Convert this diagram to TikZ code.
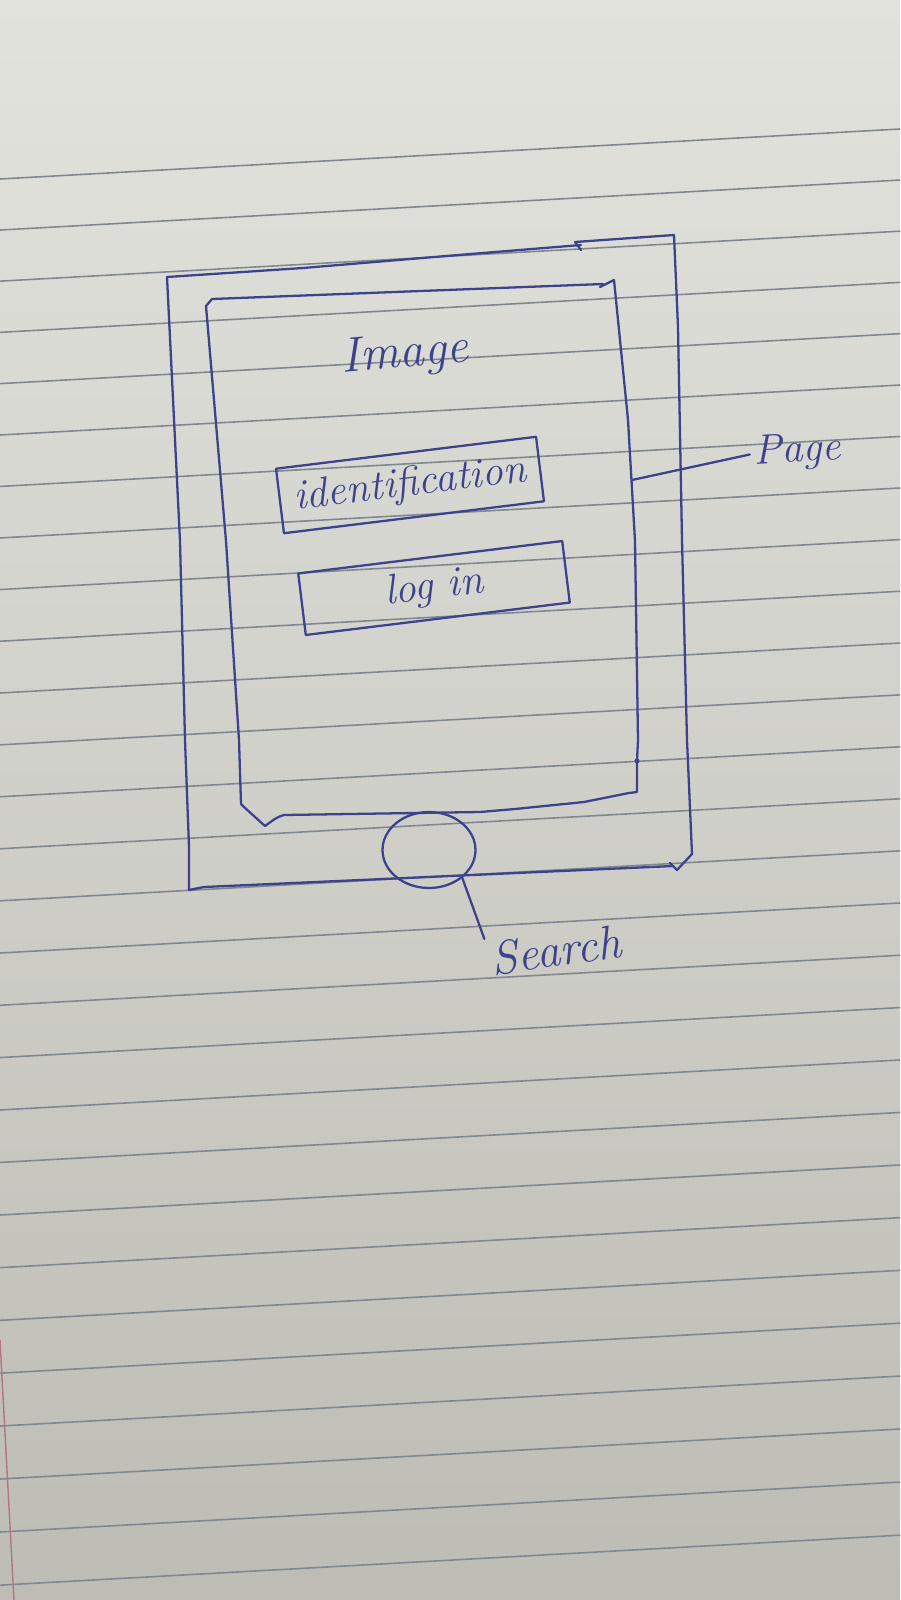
\documentclass[tikz,border=0pt]{standalone}
\usepackage{tikz}
\usetikzlibrary{shapes.geometric}

\begin{document}
\begin{tikzpicture}[x=0.02cm, y=-0.02cm,
    ink/.style={draw=inkblue, line width=1.3pt, line join=round, line cap=round},
    ruled/.style={draw=ruledgray, line width=0.9pt},
    handtext/.style={text=inkblue, font=\itshape\fontsize{24}{28}\selectfont, inner sep=2pt},
    fieldbox/.style={ink, rotate=7}]

    % Farben
    \definecolor{inkblue}{rgb}{0.24, 0.26, 0.55}
    \definecolor{ruledgray}{rgb}{0.50, 0.53, 0.56}
    \definecolor{papertop}{rgb}{0.89, 0.89, 0.87}
    \definecolor{papermid}{rgb}{0.83, 0.83, 0.81}
    \definecolor{paperbottom}{rgb}{0.74, 0.74, 0.71}
    \definecolor{marginred}{rgb}{0.72, 0.45, 0.50}

    % Papier mit Linien
    \useasboundingbox (0,0) rectangle (900,1600);
    \shade[top color=papertop, middle color=papermid, bottom color=paperbottom] (0,0) rectangle (900,1600);
    \foreach \k in {0,...,27} {
        \pgfmathsetmacro{\yl}{179+51*\k+0.04*\k*\k}
        \draw[ruled] (0,\yl) -- (900,\yl-50);
    }
    \draw[marginred, line width=0.8pt] (0,1340) -- (14,1600);

    % Gehaeuse (aussen)
    \draw[ink] (167,277) -- (303,268) -- (446,256) -- (581,245);
    \draw[ink] (581,250) -- (575,242) -- (674,235);
    \draw[ink] (674,235) -- (678,327) -- (682,540) -- (687,740) -- (692,854) -- (677,870) -- (670,863);
    \draw[ink] (673,866) -- (204,887) -- (189,890) -- (189,847) -- (185,740) -- (180,541) -- (167,277);

    % Bildschirm (innen)
    \draw[ink] (206,306) -- (212,299) -- (603,284);
    \draw[ink] (600,287) -- (614,280) -- (628,420) -- (635,541) -- (638,740) -- (637,761) -- (637,792)
        -- (629,793) -- (584,802) -- (515,809) -- (480,812) -- (284,815)
        to[out=195, in=35] (265,826) -- (244,807) -- (241,804) -- (239,740) -- (226,541) -- (206,306);
    \fill[inkblue] (637,761) circle (2.5);

    % Inhalt
    \node[handtext, rotate=5, font=\itshape\fontsize{28}{32}\selectfont] (image) at (405,355) {Image};
    \node[fieldbox, handtext, minimum width=5.24cm, minimum height=1.3cm] (ident) at (410,485) {identification};
    \node[fieldbox, handtext, minimum width=5.32cm, minimum height=1.24cm] (login) at (434,588) {log in};

    % Home-Taste
    \node[ink, ellipse, minimum width=1.86cm, minimum height=1.52cm, inner sep=0pt] (home) at (429,850) {};

    % Beschriftungen
    \node[handtext, rotate=3] (page) at (797,452) {Page};
    \node[handtext, rotate=8, font=\itshape\fontsize{27}{30}\selectfont] (search) at (556,950) {Search};

    \coordinate (pageroot) at (632,480);
    \draw[ink] (pageroot) -- (page.west);
    \draw[ink] (home.-40) -- (search.north west);

\end{tikzpicture}
\end{document}
